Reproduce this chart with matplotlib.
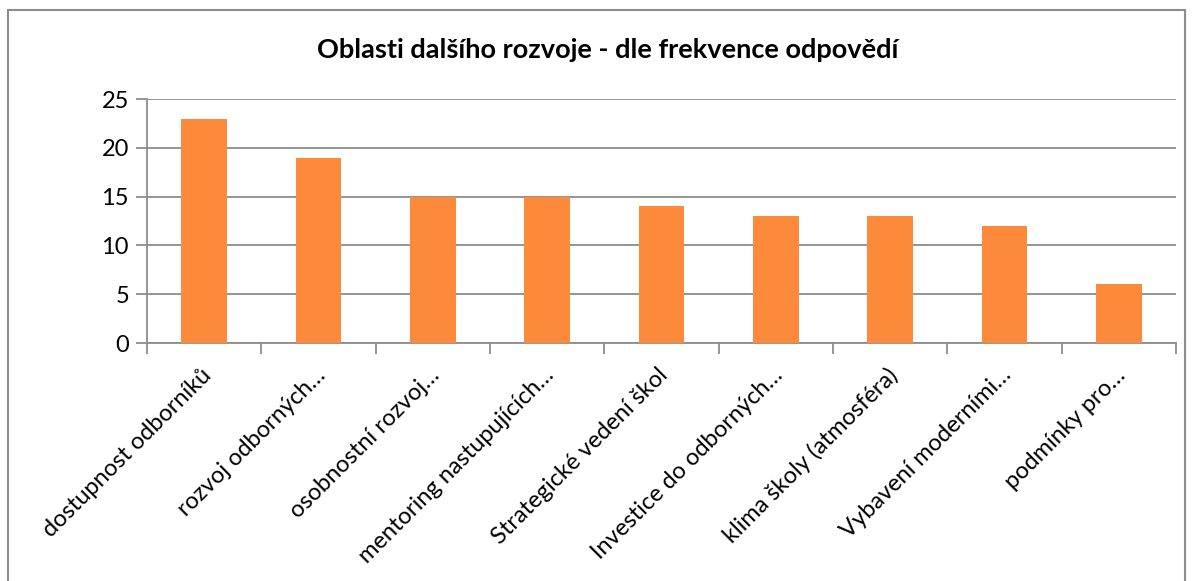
import matplotlib
matplotlib.use("Agg")
import matplotlib.pyplot as plt
from matplotlib.patches import Rectangle
from matplotlib.transforms import ScaledTranslation

categories = ["dostupnost odborníků", "rozvoj odborných…", "osobnostní rozvoj…",
              "mentoring nastupujících…", "Strategické vedení škol",
              "Investice do odborných…", "klima školy (atmosféra)",
              "Vybavení moderními…", "podmínky pro…"]
values = [23, 19, 15, 15, 14, 13, 13, 12, 6]
yticks = [0, 5, 10, 15, 20, 25]
title = "Oblasti dalšího rozvoje - dle frekvence odpovědí"

plt.rcParams['font.family'] = ['Lato', 'DejaVu Sans']

W, H = 1195, 581
fig = plt.figure(figsize=(W / 100, H / 100), dpi=100)
fig.patch.set_facecolor('white')

# outer chart border
fig.add_artist(Rectangle((8 / W, -0.01), (1185 - 8) / W, 1 - 10 / H + 0.01,
                         transform=fig.transFigure, fill=False,
                         edgecolor='#8c8c8c', linewidth=1.5))

left, right, top, bottom = 147, 1176, 99, 343
ax = fig.add_axes([left / W, 1 - bottom / H, (right - left) / W, (bottom - top) / H])

x = list(range(len(categories)))
ax.bar(x, values, width=0.4, color='#FD8A3A', zorder=3)
ax.set_xlim(-0.5, len(categories) - 0.5)
ax.set_ylim(0, 25)
ax.set_yticks(yticks)
ax.set_yticklabels([str(v) for v in yticks], fontsize=17)
ax.grid(axis='y', color='#8c8c8c', linewidth=1.3, zorder=0)

for s in ['top', 'right']:
    ax.spines[s].set_visible(False)
for s in ['left', 'bottom']:
    ax.spines[s].set_color('#8c8c8c')
    ax.spines[s].set_linewidth(1.3)

ax.tick_params(axis='y', length=8, color='#8c8c8c', width=1.3, pad=5)
ax.set_xticks([i - 0.5 for i in range(len(categories) + 1)])
ax.set_xticklabels([])
ax.tick_params(axis='x', length=8, color='#8c8c8c', width=1.3)

ax.set_xticks(x, minor=True)
ax.set_xticklabels(categories, minor=True, rotation=45, ha='right',
                   rotation_mode='anchor', fontsize=17)
ax.tick_params(axis='x', which='minor', length=0, pad=14)
shift = ScaledTranslation(-4 / 100, -2 / 100, fig.dpi_scale_trans)
for lbl in ax.get_xticklabels(minor=True):
    lbl.set_transform(lbl.get_transform() + shift)

fig.text(608 / W, 1 - 50 / H, title, ha='center', va='center',
         fontsize=19.5, fontweight='bold')

fig.savefig('out.png', dpi=100)
